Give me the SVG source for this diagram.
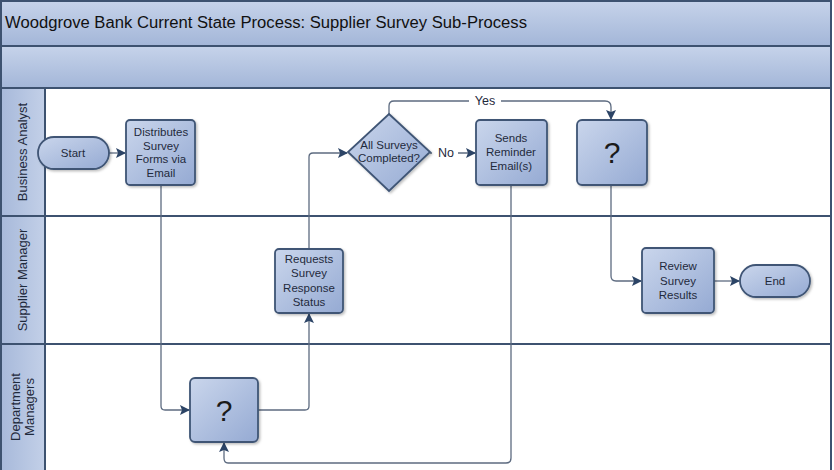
<svg xmlns="http://www.w3.org/2000/svg" width="834" height="470" viewBox="0 0 834 470">
<defs>
<linearGradient id="band" x1="0" y1="0" x2="0" y2="1">
<stop offset="0" stop-color="#c6d3ea"/><stop offset="1" stop-color="#a3b6d8"/>
</linearGradient>
<linearGradient id="hdr" x1="0" y1="0" x2="1" y2="0">
<stop offset="0" stop-color="#a7b9da"/><stop offset="1" stop-color="#c3d0e8"/>
</linearGradient>
<linearGradient id="node" x1="0" y1="0" x2="1" y2="1">
<stop offset="0" stop-color="#cad6ec"/><stop offset="1" stop-color="#95aad3"/>
</linearGradient>
<marker id="ah" viewBox="0 0 10 10" refX="9" refY="5" markerWidth="10" markerHeight="10" markerUnits="userSpaceOnUse" orient="auto">
<path d="M0,0 L10,5 L0,10 L2,5 Z" fill="#2c4466"/>
</marker>
<filter id="sh" x="-10%" y="-10%" width="130%" height="130%">
<feDropShadow dx="1.5" dy="1.5" stdDeviation="1" flood-color="#000" flood-opacity="0.25"/>
</filter>
</defs>
<style>
.lane{fill:#ffffff;stroke:#3d5270;stroke-width:2}
.hdr{fill:url(#hdr);stroke:#3d5270;stroke-width:2}
.shape{fill:url(#node);stroke:#3f5575;stroke-width:1.8;filter:url(#sh)}
.t{font-family:"Liberation Sans",Arial,sans-serif;font-size:11.5px;fill:#1f2a3c;text-anchor:middle}
.q{font-family:"Liberation Sans",Arial,sans-serif;font-size:30px;fill:#1a1a1a;text-anchor:middle}
.lt{font-family:"Liberation Sans",Arial,sans-serif;font-size:13px;fill:#1f2a3c;text-anchor:middle}
.title{font-family:"Liberation Sans",Arial,sans-serif;font-size:16px;fill:#111}
.conn{fill:none;stroke:#5d6b80;stroke-width:1.3}
.cl{font-family:"Liberation Sans",Arial,sans-serif;font-size:12.5px;fill:#1f2a3c;text-anchor:middle}
</style>
<rect x="0" y="0" width="834" height="470" fill="#ffffff"/>
<g id="pool">
<rect x="1" y="1" width="830" height="45" fill="url(#band)" stroke="#3d5270" stroke-width="2"/>
<text class="title" x="5" y="28" textLength="522" lengthAdjust="spacingAndGlyphs">Woodgrove Bank Current State Process: Supplier Survey Sub-Process</text>
<rect x="1" y="46" width="830" height="42" fill="url(#band)" stroke="#3d5270" stroke-width="2"/>
</g>
<g id="lane-ba">
<rect class="lane" x="1" y="88" width="830" height="128"/>
<rect class="hdr" x="1" y="88" width="44" height="128"/>
<text class="lt" transform="translate(27,152) rotate(-90)">Business Analyst</text>
</g>
<g id="lane-sm">
<rect class="lane" x="1" y="216" width="830" height="128"/>
<rect class="hdr" x="1" y="216" width="44" height="128"/>
<text class="lt" transform="translate(27,280) rotate(-90)">Supplier Manager</text>
</g>
<g id="lane-dm">
<rect class="lane" x="1" y="344" width="830" height="130"/>
<rect class="hdr" x="1" y="344" width="44" height="130"/>
<text class="lt" transform="translate(20,407) rotate(-90)">Department</text>
<text class="lt" transform="translate(34,407) rotate(-90)">Managers</text>
</g>
<g id="connectors">
<path class="conn" d="M109,153 L125,153" marker-end="url(#ah)"/>
<path class="conn" d="M161,185 L161,406 Q161,410 165,410 L189,410" marker-end="url(#ah)"/>
<path class="conn" d="M258,410 L305,410 Q309,410 309,406 L309,314" marker-end="url(#ah)"/>
<path class="conn" d="M309,249 L309,157 Q309,153 313,153 L347,153" marker-end="url(#ah)"/>
<path class="conn" d="M430,153 L475,153" marker-end="url(#ah)"/>
<path class="conn" d="M389,114 L389,106 Q389,101 394,101 L605,101 Q611,101 611,107 L611,119" marker-end="url(#ah)"/>
<path class="conn" d="M511,185 L511,458 Q511,463 506,463 L228,463 Q224,463 224,458 L224,443" marker-end="url(#ah)"/>
<path class="conn" d="M611,185 L611,276 Q611,281 616,281 L641,281" marker-end="url(#ah)"/>
<path class="conn" d="M714,281 L739,281" marker-end="url(#ah)"/>
<rect x="432" y="145" width="26" height="14" fill="#ffffff"/>
<text class="cl" x="446" y="157">No</text>
<rect x="469" y="94" width="32" height="14" fill="#ffffff"/>
<text class="cl" x="485" y="105">Yes</text>
</g>
<g id="start">
<rect class="shape" x="38" y="137" width="71" height="32" rx="16"/>
<text class="t" x="73" y="157">Start</text>
</g>
<g id="distributes">
<rect class="shape" x="126" y="120" width="69" height="65" rx="4"/>
<text class="t" x="161" y="136">Distributes</text>
<text class="t" x="161" y="150">Survey</text>
<text class="t" x="161" y="163">Forms via</text>
<text class="t" x="161" y="177">Email</text>
</g>
<g id="decision">
<path class="shape" d="M389,114 L430,152 L389,191 L348,152 Z"/>
<text class="t" x="389" y="149">All Surveys</text>
<text class="t" x="389" y="162">Completed?</text>
</g>
<g id="sends">
<rect class="shape" x="476" y="120" width="71" height="65" rx="4"/>
<text class="t" x="511" y="142">Sends</text>
<text class="t" x="511" y="156">Reminder</text>
<text class="t" x="511" y="170">Email(s)</text>
</g>
<g id="unknown-ba">
<rect class="shape" x="577" y="120" width="70" height="65" rx="5"/>
<text class="q" x="612" y="163">?</text>
</g>
<g id="requests">
<rect class="shape" x="275" y="249" width="68" height="64" rx="4"/>
<text class="t" x="309" y="263">Requests</text>
<text class="t" x="309" y="277">Survey</text>
<text class="t" x="309" y="292">Response</text>
<text class="t" x="309" y="306">Status</text>
</g>
<g id="review">
<rect class="shape" x="642" y="248" width="72" height="65" rx="4"/>
<text class="t" x="678" y="270">Review</text>
<text class="t" x="678" y="285">Survey</text>
<text class="t" x="678" y="299">Results</text>
</g>
<g id="end">
<rect class="shape" x="740" y="265" width="70" height="32" rx="16"/>
<text class="t" x="775" y="285">End</text>
</g>
<g id="unknown-dm">
<rect class="shape" x="190" y="378" width="68" height="64" rx="5"/>
<text class="q" x="224" y="421">?</text>
</g>
</svg>
